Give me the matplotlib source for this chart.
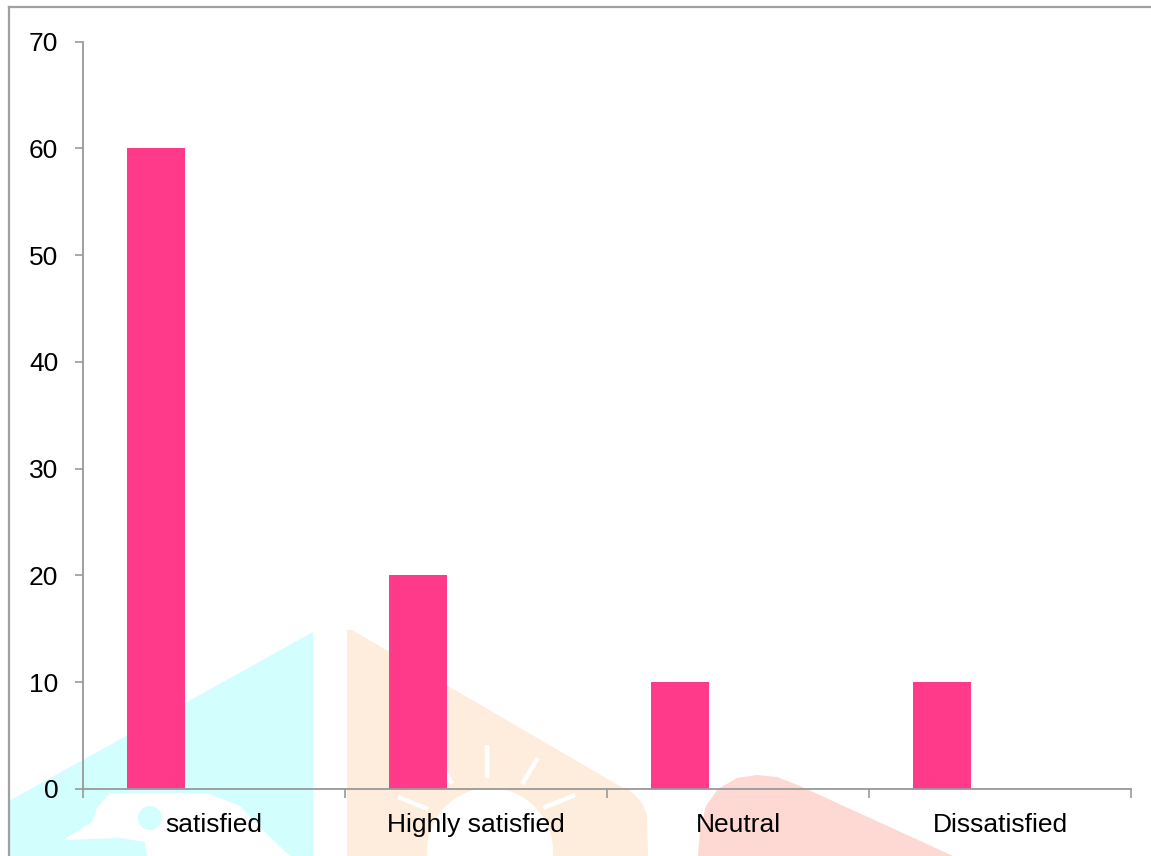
import numpy as np
import matplotlib
matplotlib.use("Agg")
import matplotlib.pyplot as plt
from matplotlib.patches import Polygon, Circle
from matplotlib.lines import Line2D
from matplotlib.transforms import Affine2D

# ---- data ----
categories = ["satisfied", "Highly satisfied", "Neutral", "Dissatisfied"]
values = [60, 20, 10, 10]
yticks = [0, 10, 20, 30, 40, 50, 60, 70]

W, H = 1151, 856
plt.rcParams['font.family'] = ['Liberation Sans', 'DejaVu Sans']

fig = plt.figure(figsize=(W / 100, H / 100), dpi=100)
fig.patch.set_facecolor('white')

# pixel transform (origin top-left)
px = Affine2D().scale(1 / W, -1 / H).translate(0, 1) + fig.transFigure


def add_poly(pts, color, z=0):
    fig.add_artist(Polygon(pts, closed=True, facecolor=color, edgecolor='none',
                           transform=px, zorder=z))


# ---- background watermark (decoration) ----
cyan = '#D2FEFE'
beige = '#FEEDDC'
pink = '#FED8D2'
add_poly([(9, 801), (313, 632), (313, 856), (9, 856)], cyan, 0.1)
add_poly([(110, 793), (207, 793), (240, 806), (268, 835), (290, 856), (147, 856),
          (145, 842), (120, 838), (63, 840), (92, 822), (97, 808)], 'white', 0.2)
fig.add_artist(Circle((150, 818), 12, transform=px, facecolor=cyan,
                      edgecolor='none', zorder=0.3))
add_poly([(347, 630), (352, 630), (618, 785), (632, 792), (642, 803), (647, 815),
          (648, 856), (347, 856)], beige, 0.1)
fig.add_artist(Circle((490, 851), 63, transform=px, facecolor='white',
                      edgecolor='none', zorder=0.2))
for (x0, y0, x1, y1) in [(487, 745, 487, 778), (538, 758, 522, 784),
                         (575, 795, 543, 808), (398, 797, 428, 809),
                         (438, 760, 452, 784)]:
    fig.add_artist(Line2D([x0, x1], [y0, y1], transform=px, color='white',
                          lw=3.2, zorder=0.2, solid_capstyle='butt'))
add_poly([(698, 856), (700, 830), (706, 806), (718, 789), (737, 778), (757, 775),
          (777, 777), (800, 786), (953, 856)], pink, 0.1)

# frame
fig.add_artist(Line2D([9, 9], [7, 856], transform=px, color='#A0A0A0', lw=1.6, zorder=0.5))
fig.add_artist(Line2D([9, 1151], [7, 7], transform=px, color='#A0A0A0', lw=1.6, zorder=0.5))

# ---- axes ----
left, right, top, bottom = 83, 1131, 41.5, 789
ax = fig.add_axes([left / W, (H - bottom) / H, (right - left) / W, (bottom - top) / H])
ax.patch.set_alpha(0)
ax.set_zorder(1)

x = np.arange(len(categories))
bar_w = 58 / 262
ax.bar(x - bar_w, values, width=bar_w, color='#FF3A8A', edgecolor='none', zorder=2)

ax.set_xlim(-0.5, len(categories) - 0.5)
ax.set_ylim(0, 70)
ax.set_yticks(yticks)
ax.set_yticklabels([str(v) for v in yticks])

ax.set_xticks(np.arange(len(categories) + 1) - 0.5)
ax.set_xticklabels([''] * (len(categories) + 1))
ax.set_xticks(x, minor=True)
ax.set_xticklabels(categories, minor=True)

for s in ['top', 'right']:
    ax.spines[s].set_visible(False)
for s in ['left', 'bottom']:
    ax.spines[s].set_color('#999999')
    ax.spines[s].set_linewidth(1.3)

ax.tick_params(axis='y', which='major', direction='out', length=5.8, width=1.2,
               color='#999999', labelsize=19, pad=12, labelcolor='black')
ax.tick_params(axis='x', which='major', direction='out', length=6.5, width=1.2,
               color='#999999')
ax.tick_params(axis='x', which='minor', length=0, labelsize=19, pad=17,
               labelcolor='black')

fig.savefig('out.png', dpi=100, facecolor='white')
